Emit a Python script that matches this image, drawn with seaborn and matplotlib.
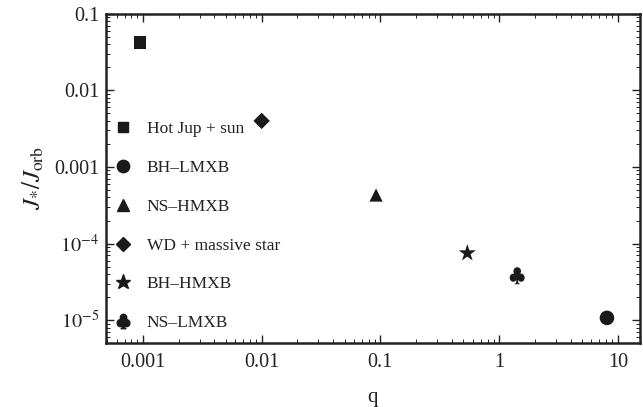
import matplotlib
matplotlib.use("Agg")
import matplotlib.pyplot as plt
import seaborn as sns
import pandas as pd

systems = ["Hot Jup + sun", "BH–LMXB", "NS–HMXB", "WD + massive star", "BH–HMXB", "NS–LMXB"]
q_vals = [0.00095, 8.1, 0.092, 0.0100, 0.54, 1.42]
j_ratio = [0.042, 1.07e-5, 4.3e-4, 4.0e-3, 7.5e-5, 3.8e-5]
marker_map = {
    "Hot Jup + sun": "s",
    "BH–LMXB": "o",
    "NS–HMXB": "^",
    "WD + massive star": "D",
    "BH–HMXB": "*",
    "NS–LMXB": "$\u2663$",
}
size_map = {"Hot Jup + sun": 80, "BH–LMXB": 110, "NS–HMXB": 90,
            "WD + massive star": 70, "BH–HMXB": 170, "NS–LMXB": 150}

df = pd.DataFrame({"system": systems, "q": q_vals, "J": j_ratio})
df["sz"] = df["system"].map(size_map)

sns.set_theme(style="ticks")
plt.rcParams["font.family"] = ["Liberation Serif", "DejaVu Serif"]
plt.rcParams["mathtext.fontset"] = "stix"

fig = plt.figure(figsize=(6.43, 4.07), dpi=100)
ax = fig.add_axes([0.165, 0.157, 0.830, 0.809])

sns.scatterplot(data=df, x="q", y="J", style="system", style_order=systems,
                markers=marker_map, size="sz", sizes=(70, 170), color="#1a1a1a",
                edgecolor="none", linewidth=0, ax=ax, legend=False)

ax.set_xscale("log")
ax.set_yscale("log")
ax.set_xlim(10 ** -3.31, 10 ** 1.185)
ax.set_ylim(10 ** -5.30, 0.1)

ax.set_xticks([0.001, 0.01, 0.1, 1, 10])
ax.set_xticklabels(["0.001", "0.01", "0.1", "1", "10"])
ax.set_yticks([1e-5, 1e-4, 1e-3, 1e-2, 1e-1])
ax.set_yticklabels([r"$10^{-5}$", r"$10^{-4}$", "0.001", "0.01", "0.1"])

ax.tick_params(which="both", direction="in", top=True, right=True, colors="#222222",
               labelcolor="#222222")
ax.tick_params(which="major", length=6, width=1.0, labelsize=14.5)
ax.tick_params(which="minor", length=3, width=0.7)
ax.tick_params(axis="x", pad=7)
ax.tick_params(axis="y", pad=5)
for sp in ax.spines.values():
    sp.set_linewidth(1.8)
    sp.set_color("#222222")

ax.set_xlabel("q", fontsize=15, color="#222222", labelpad=12)
ax.set_ylabel(r"$J_{*}/J_{\rm orb}$", fontsize=18, color="#222222", labelpad=6)

# legend built from the same marker mapping
handles = [plt.Line2D([], [], ls="none", marker=marker_map[s], color="#1a1a1a",
                      markersize=(size_map[s] ** 0.5) * 0.85) for s in systems]
ax.legend(handles, systems, loc="center left", bbox_to_anchor=(0.0, 0.355),
          frameon=False, fontsize=12.5, labelspacing=1.3, handletextpad=0.75,
          handlelength=1.2, borderaxespad=0.0, labelcolor="#222222")

fig.savefig("out.png", dpi=100)
